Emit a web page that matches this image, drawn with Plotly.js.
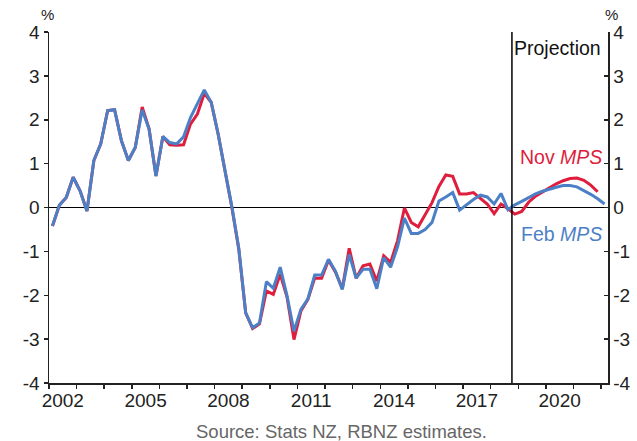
<!DOCTYPE html>
<html>
<head>
<meta charset="utf-8">
<script src="https://cdn.plot.ly/plotly-3.0.1.min.js"></script>
<style>
html,body{margin:0;padding:0;background:#fff;}
#chart{width:637px;height:441px;}
</style>
</head>
<body>
<div id="chart"></div>
<script>
// Quarterly observations, 2002 Q1 onward (plotted at quarter mid-points)
const startYear = 2002;
const novMPS = [
  -0.42, 0.05, 0.23, 0.69, 0.38, -0.08, 1.07, 1.45, 2.21, 2.23,
  1.52, 1.07, 1.37, 2.29, 1.79, 0.72, 1.62, 1.43, 1.42, 1.43,
  1.90, 2.13, 2.60, 2.40, 1.68, 0.84, 0.00, -0.95, -2.40, -2.76,
  -2.65, -1.90, -1.98, -1.52, -2.05, -3.01, -2.36, -2.10, -1.61, -1.61,
  -1.20, -1.47, -1.85, -0.93, -1.61, -1.33, -1.29, -1.68, -1.10, -1.25,
  -0.76, -0.01, -0.34, -0.44, -0.15, 0.11, 0.48, 0.74, 0.71, 0.31,
  0.31, 0.34, 0.21, 0.08, -0.14, 0.08, -0.03, -0.15, -0.09, 0.12,
  0.26, 0.36, 0.45, 0.54, 0.61, 0.66, 0.67, 0.62, 0.51, 0.36
];
const febMPS = [
  -0.42, 0.05, 0.23, 0.69, 0.38, -0.08, 1.07, 1.45, 2.21, 2.23,
  1.52, 1.07, 1.37, 2.22, 1.79, 0.72, 1.62, 1.48, 1.45, 1.61,
  2.05, 2.37, 2.68, 2.40, 1.68, 0.84, 0.02, -0.93, -2.40, -2.74,
  -2.63, -1.69, -1.84, -1.36, -2.02, -2.82, -2.32, -2.09, -1.54, -1.54,
  -1.18, -1.45, -1.87, -1.07, -1.61, -1.41, -1.41, -1.85, -1.14, -1.36,
  -0.90, -0.24, -0.59, -0.59, -0.50, -0.34, 0.15, 0.24, 0.34, -0.06,
  0.07, 0.18, 0.28, 0.24, 0.08, 0.32, -0.05, 0.06, 0.14, 0.22,
  0.31, 0.37, 0.42, 0.46, 0.50, 0.50, 0.47, 0.39, 0.30, 0.20,
  0.08
];
const projectionStart = 2018.77;
const yearLabels = ['2002','2005','2008','2011','2014','2017','2020'];
const yTickVals = [-4,-3,-2,-1,0,1,2,3,4];
const yTickText = ['-4','-3','-2','-1','0','1','2','3','4'];

const qx = arr => arr.map((_, i) => startYear + 0.125 + 0.25 * i);
const labelVals = yearLabels.map(y => Number(y) + 0.5);

const RED = '#DE1E3C';
const BLUE = '#4C80C6';
const FONT = 'Liberation Sans, Arial, sans-serif';
const TICK = 19;

const traces = [
  {x: qx(novMPS), y: novMPS, type: 'scatter', mode: 'lines', name: 'Nov MPS',
   xaxis: 'x', yaxis: 'y', line: {color: RED, width: 3}, hoverinfo: 'skip'},
  {x: qx(febMPS), y: febMPS, type: 'scatter', mode: 'lines', name: 'Feb MPS',
   xaxis: 'x', yaxis: 'y2', line: {color: BLUE, width: 3}, hoverinfo: 'skip'}
];

const axisCommon = {
  range: [-4, 4], autorange: false, tickmode: 'array', tickvals: yTickVals, ticktext: yTickText,
  showgrid: false, showline: true, linecolor: '#222', linewidth: 1.5,
  tickcolor: '#222', tickwidth: 1.5, ticklen: 4,
  tickfont: {family: FONT, size: TICK, color: '#222'}, fixedrange: true
};

const layout = {
  width: 637, height: 441,
  margin: {l: 49, r: 29, t: 32, b: 58},
  paper_bgcolor: '#fff', plot_bgcolor: '#fff',
  showlegend: false,
  font: {family: FONT, color: '#222'},
  xaxis: {
    range: [2002, 2022.25], autorange: false, tickmode: 'array', tickvals: labelVals, ticktext: yearLabels,
    ticks: 'outside', ticklen: 0.01, tickcolor: 'rgba(0,0,0,0)', tickwidth: 0.01,
    showgrid: false, showline: true, linecolor: '#222', linewidth: 1.5,
    zeroline: false, tickfont: {family: FONT, size: TICK, color: '#222'},
    minor: {tickmode: 'linear', tick0: 2002, dtick: 1, ticks: 'outside', ticklen: 4,
            tickcolor: '#222', tickwidth: 1.5, showgrid: false},
    fixedrange: true
  },
  yaxis: Object.assign({}, axisCommon, {ticks: 'outside', side: 'left',
    zeroline: true, zerolinecolor: '#000', zerolinewidth: 1}),
  yaxis2: Object.assign({}, axisCommon, {ticks: 'inside', side: 'right',
    overlaying: 'y', zeroline: false}),
  shapes: [
    {type: 'line', xref: 'x', yref: 'paper', x0: projectionStart, x1: projectionStart,
     y0: 0, y1: 1, line: {color: '#000', width: 1.5}}
  ],
  annotations: [
    {text: '%', xref: 'paper', yref: 'paper', x: -0.002, y: 1.051, showarrow: false,
     xanchor: 'center', yanchor: 'middle', font: {family: FONT, size: 15, color: '#222'}},
    {text: '%', xref: 'paper', yref: 'paper', x: 1.0054, y: 1.051, showarrow: false,
     xanchor: 'center', yanchor: 'middle', font: {family: FONT, size: 15, color: '#222'}},
    {text: 'Projection', xref: 'paper', yref: 'paper', x: 0.991, y: 0.954, showarrow: false,
     xanchor: 'right', yanchor: 'middle', font: {family: FONT, size: 19.5, color: '#111'}},
    {text: 'Nov <i>MPS</i>', xref: 'paper', yref: 'paper', x: 0.993, y: 0.644, showarrow: false,
     xanchor: 'right', yanchor: 'middle', font: {family: FONT, size: 19.5, color: RED}},
    {text: 'Feb <i>MPS</i>', xref: 'paper', yref: 'paper', x: 0.993, y: 0.4245, showarrow: false,
     xanchor: 'right', yanchor: 'middle', font: {family: FONT, size: 19.5, color: BLUE}},
    {text: 'Source: Stats NZ, RBNZ estimates.', xref: 'paper', yref: 'paper', x: 0.524, y: -0.137,
     showarrow: false, xanchor: 'center', yanchor: 'middle',
     font: {family: FONT, size: 18.5, color: '#666'}}
  ]
};

Plotly.newPlot('chart', traces, layout, {staticPlot: true, displayModeBar: false});
</script>
</body>
</html>
